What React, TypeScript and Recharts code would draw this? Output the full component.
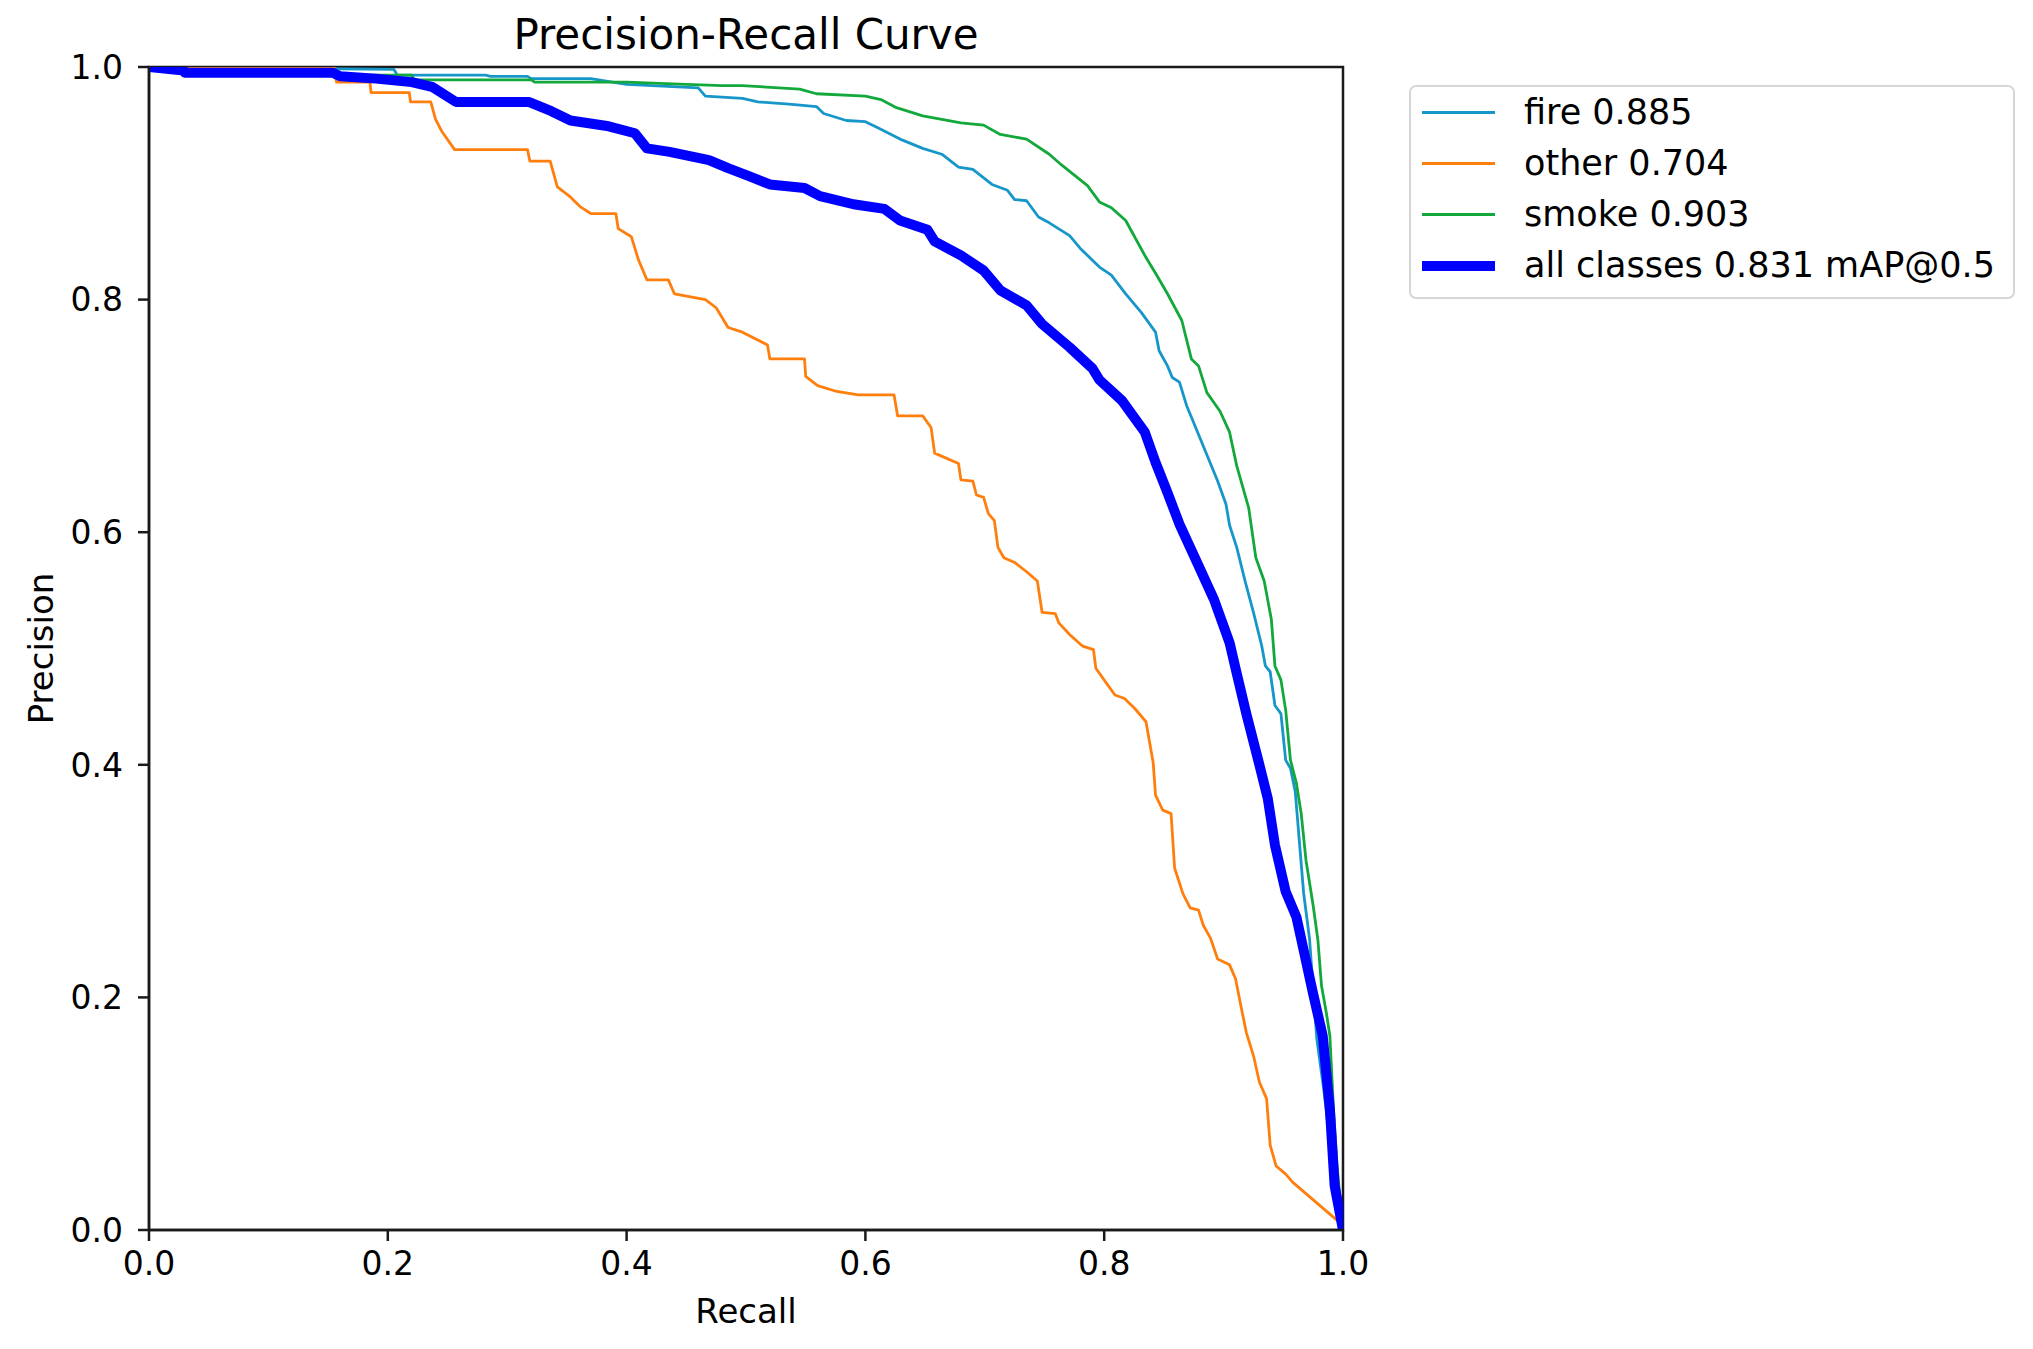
import { LineChart, Line, XAxis, YAxis, Legend, ReferenceArea } from 'recharts';

// axis ticks (shared by both axes)
const ticks = [0, 0.2, 0.4, 0.6, 0.8, 1.0];

// class names and their AP@0.5
const classNames = ['fire', 'other', 'smoke'];
const classAp = [0.885, 0.704, 0.903];
const meanAp = 0.831;

// [recall, precision]
const fire: [number, number][] = [
  [0, 1.0], [0.205, 0.998], [0.208, 0.993], [0.282, 0.993], [0.286, 0.992], [0.317, 0.992],
  [0.32, 0.99], [0.37, 0.99], [0.4, 0.985], [0.46, 0.982], [0.466, 0.975], [0.497, 0.973],
  [0.51, 0.97], [0.536, 0.968], [0.559, 0.966], [0.565, 0.96], [0.584, 0.954], [0.6, 0.953],
  [0.61, 0.948], [0.629, 0.938], [0.648, 0.93], [0.664, 0.925], [0.678, 0.914], [0.69, 0.912],
  [0.706, 0.899], [0.719, 0.894], [0.725, 0.886], [0.735, 0.885], [0.745, 0.871], [0.754, 0.866],
  [0.771, 0.855], [0.78, 0.844], [0.796, 0.828], [0.806, 0.821], [0.818, 0.805], [0.831, 0.789],
  [0.843, 0.772], [0.846, 0.756], [0.853, 0.743], [0.857, 0.733], [0.863, 0.729], [0.869, 0.709],
  [0.879, 0.684], [0.887, 0.664], [0.895, 0.644], [0.902, 0.624], [0.905, 0.606], [0.911, 0.587],
  [0.918, 0.558], [0.925, 0.531], [0.932, 0.502], [0.935, 0.485], [0.939, 0.48], [0.943, 0.451],
  [0.948, 0.444], [0.952, 0.404], [0.956, 0.397], [0.96, 0.377], [0.967, 0.29], [0.972, 0.25],
  [0.978, 0.165], [0.984, 0.12], [0.989, 0.076], [0.995, 0.035], [1.0, 0.0],
];

const other: [number, number][] = [
  [0, 1.0], [0.155, 1.0], [0.157, 0.987], [0.185, 0.987], [0.186, 0.978], [0.218, 0.978],
  [0.219, 0.97], [0.236, 0.97], [0.24, 0.955], [0.245, 0.945], [0.256, 0.929], [0.317, 0.929],
  [0.319, 0.919], [0.336, 0.919], [0.342, 0.897], [0.352, 0.889], [0.361, 0.88], [0.37, 0.874],
  [0.391, 0.874], [0.393, 0.861], [0.404, 0.854], [0.41, 0.834], [0.417, 0.817], [0.435, 0.817],
  [0.44, 0.805], [0.466, 0.8], [0.475, 0.793], [0.485, 0.776], [0.497, 0.772], [0.518, 0.761],
  [0.52, 0.749], [0.549, 0.749], [0.55, 0.734], [0.56, 0.726], [0.576, 0.721], [0.594, 0.718],
  [0.624, 0.718], [0.627, 0.7], [0.648, 0.7], [0.655, 0.69], [0.658, 0.668], [0.678, 0.659],
  [0.68, 0.645], [0.69, 0.644], [0.693, 0.632], [0.699, 0.63], [0.703, 0.616], [0.708, 0.61],
  [0.711, 0.587], [0.716, 0.578], [0.725, 0.574], [0.735, 0.566], [0.744, 0.558], [0.748, 0.531],
  [0.759, 0.53], [0.762, 0.522], [0.771, 0.512], [0.782, 0.502], [0.791, 0.499], [0.793, 0.483],
  [0.802, 0.47], [0.809, 0.46], [0.817, 0.457], [0.826, 0.448], [0.835, 0.437], [0.841, 0.402],
  [0.843, 0.374], [0.849, 0.361], [0.856, 0.358], [0.859, 0.311], [0.866, 0.289], [0.872, 0.277],
  [0.879, 0.275], [0.883, 0.262], [0.889, 0.251], [0.895, 0.233], [0.905, 0.228], [0.91, 0.216],
  [0.915, 0.19], [0.919, 0.17], [0.925, 0.15], [0.93, 0.127], [0.936, 0.113], [0.939, 0.073],
  [0.944, 0.055], [0.952, 0.048], [0.958, 0.041], [1.0, 0.004],
];

const smoke: [number, number][] = [
  [0, 1.0], [0.03, 1.0], [0.032, 0.993], [0.22, 0.993], [0.222, 0.989], [0.32, 0.989],
  [0.323, 0.987], [0.4, 0.987], [0.45, 0.985], [0.48, 0.984], [0.497, 0.984], [0.545, 0.981],
  [0.559, 0.977], [0.6, 0.975], [0.613, 0.972], [0.626, 0.965], [0.648, 0.958], [0.68, 0.952],
  [0.699, 0.95], [0.713, 0.942], [0.735, 0.938], [0.754, 0.925], [0.764, 0.916], [0.786, 0.898],
  [0.796, 0.884], [0.806, 0.879], [0.818, 0.868], [0.834, 0.838], [0.844, 0.821], [0.853, 0.805],
  [0.865, 0.782], [0.873, 0.749], [0.879, 0.743], [0.886, 0.72], [0.897, 0.704], [0.905, 0.686],
  [0.911, 0.657], [0.921, 0.621], [0.927, 0.578], [0.934, 0.558], [0.94, 0.525], [0.943, 0.485],
  [0.948, 0.473], [0.952, 0.447], [0.956, 0.404], [0.961, 0.384], [0.965, 0.358], [0.969, 0.318],
  [0.975, 0.279], [0.979, 0.249], [0.982, 0.21], [0.986, 0.187], [0.989, 0.167], [0.992, 0.104],
  [0.995, 0.055], [1.0, 0.0],
];

const allClasses: [number, number][] = [
  [0, 1.0], [0.029, 0.997], [0.03, 0.995], [0.154, 0.995], [0.16, 0.992], [0.19, 0.99],
  [0.22, 0.987], [0.237, 0.983], [0.257, 0.97], [0.318, 0.97], [0.337, 0.962], [0.353, 0.954],
  [0.385, 0.949], [0.407, 0.943], [0.417, 0.93], [0.436, 0.927], [0.469, 0.92], [0.485, 0.913],
  [0.503, 0.906], [0.52, 0.899], [0.549, 0.896], [0.562, 0.889], [0.59, 0.882], [0.616, 0.878],
  [0.629, 0.868], [0.652, 0.86], [0.658, 0.85], [0.68, 0.838], [0.699, 0.825], [0.713, 0.808],
  [0.735, 0.795], [0.748, 0.779], [0.771, 0.759], [0.79, 0.741], [0.796, 0.731], [0.815, 0.713],
  [0.834, 0.686], [0.843, 0.66], [0.853, 0.634], [0.863, 0.607], [0.876, 0.578], [0.892, 0.542],
  [0.905, 0.505], [0.91, 0.483], [0.919, 0.444], [0.929, 0.404], [0.937, 0.371], [0.943, 0.331],
  [0.952, 0.291], [0.961, 0.269], [0.968, 0.236], [0.975, 0.203], [0.983, 0.167], [0.989, 0.104],
  [0.993, 0.038], [1.0, 0.0],
];

const COLORS = ['#1696c9', '#ff7f0e', '#12a83c'];
const FONT = 'DejaVu Sans';

const toRows = (pts: [number, number][]) => pts.map(([recall, precision]) => ({ recall, precision }));

const classCurves = [fire, other, smoke];
const allLabel = `all classes ${meanAp.toFixed(3)} mAP@0.5`;
const legendOrder = [...classNames.map((n, i) => `${n} ${classAp[i].toFixed(3)}`), allLabel];

const renderLegend = (props: any) => {
  const payload = [...(props.payload || [])].sort(
    (a: any, b: any) => legendOrder.indexOf(a.value) - legendOrder.indexOf(b.value)
  );
  return (
    <div
      style={{
        boxSizing: 'border-box',
        width: 606,
        height: 214,
        border: '2px solid #d6d6d6',
        borderRadius: 7,
        background: '#fff',
        fontFamily: FONT,
        fontSize: 35,
        color: '#000',
      }}
    >
      {payload.map((entry: any, i: number) => {
        const w = entry.payload?.strokeWidth ?? 2.5;
        return (
          <div key={i} style={{ display: 'flex', alignItems: 'center', height: 51 }}>
            <div style={{ marginLeft: 11, width: 73, height: w, background: entry.color }} />
            <span style={{ marginLeft: 29, lineHeight: '51px', whiteSpace: 'nowrap' }}>{entry.value}</span>
          </div>
        );
      })}
    </div>
  );
};

export default function App() {
  const tickStyle = { fill: '#000', fontSize: 33, fontFamily: FONT };
  return (
    <div
      style={{
        position: 'absolute',
        left: 0,
        top: 0,
        width: 2033,
        height: 1349,
        background: '#fff',
        fontFamily: FONT,
      }}
    >
      <div
        style={{
          position: 'absolute',
          left: 149,
          top: 14,
          width: 1194,
          textAlign: 'center',
          fontSize: 42,
          lineHeight: '42px',
          color: '#000',
          zIndex: 2,
        }}
      >
        Precision-Recall Curve
      </div>
      <LineChart width={2033} height={1349} margin={{ top: 67, right: 690, bottom: 0, left: 0 }}>
        <XAxis
          dataKey="recall"
          type="number"
          domain={[0, 1]}
          ticks={ticks}
          interval={0}
          height={119}
          tickSize={11}
          tickMargin={11}
          stroke="#1a1a1a"
          axisLine={{ strokeWidth: 2.5 }}
          tickLine={{ strokeWidth: 2.5 }}
          tick={tickStyle}
          tickFormatter={(v: number) => v.toFixed(1)}
          allowDataOverflow
          label={{ value: 'Recall', position: 'insideBottom', offset: 26, fill: '#000', fontSize: 34, fontFamily: FONT }}
        />
        <YAxis
          dataKey="precision"
          type="number"
          domain={[0, 1]}
          ticks={ticks}
          interval={0}
          width={149}
          tickSize={11}
          tickMargin={15}
          stroke="#1a1a1a"
          axisLine={{ strokeWidth: 2.5 }}
          tickLine={{ strokeWidth: 2.5 }}
          tick={tickStyle}
          tickFormatter={(v: number) => v.toFixed(1)}
          allowDataOverflow
          label={{
            value: 'Precision',
            angle: -90,
            position: 'insideLeft',
            offset: 41,
            fill: '#000',
            fontSize: 34,
            fontFamily: FONT,
            style: { textAnchor: 'middle' },
          }}
        />
        <ReferenceArea x1={0} x2={1} y1={0} y2={1} fill="none" fillOpacity={0} stroke="#1a1a1a" strokeWidth={2.5} />
        {classCurves.map((pts, i) => (
          <Line
            key={classNames[i]}
            data={toRows(pts)}
            dataKey="precision"
            name={legendOrder[i]}
            type="linear"
            stroke={COLORS[i]}
            strokeWidth={2.8}
            strokeLinejoin="round"
            dot={false}
            activeDot={false}
            isAnimationActive={false}
          />
        ))}
        <Line
          data={toRows(allClasses)}
          dataKey="precision"
          name={allLabel}
          type="linear"
          stroke="#0000ff"
          strokeWidth={10}
          strokeLinejoin="round"
          dot={false}
          activeDot={false}
          isAnimationActive={false}
        />
        <Legend
          layout="horizontal"
          verticalAlign="middle"
          align="center"
          content={renderLegend}
          wrapperStyle={{ position: 'absolute', left: 1409, top: 85, width: 606, height: 214 }}
        />
      </LineChart>
    </div>
  );
}
